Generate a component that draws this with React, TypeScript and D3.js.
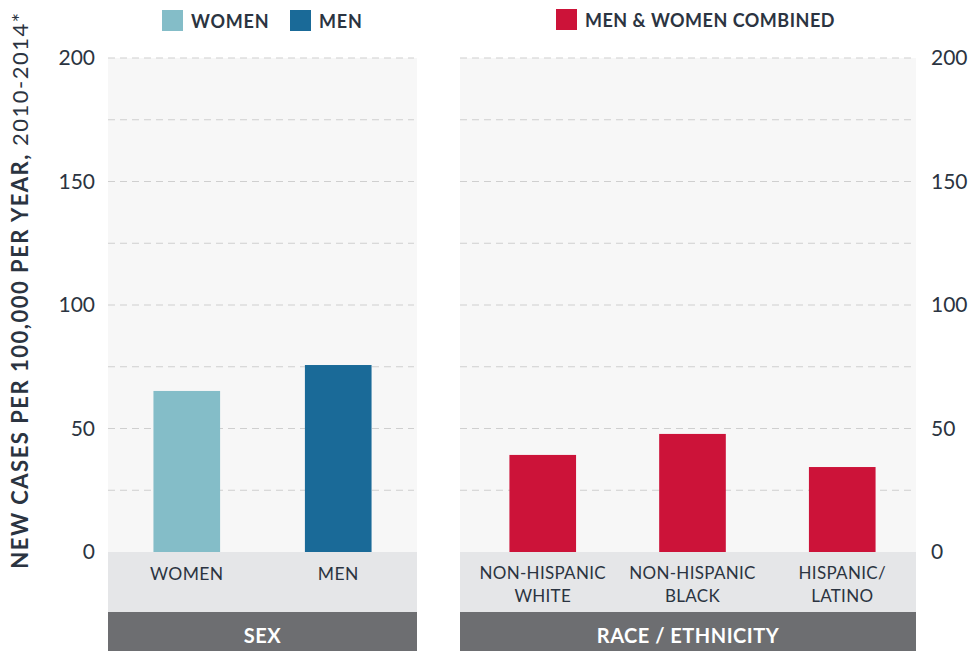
import React from 'react';
import * as d3 from 'd3';

const sexCategories = ['WOMEN', 'MEN'];
const sexValues = [65.2, 75.7];
const sexColors = ['#84bdc8', '#1a6a98'];

const raceCategories = ['NON-HISPANIC WHITE', 'NON-HISPANIC BLACK', 'HISPANIC/ LATINO'];
const raceLabelLines = [['NON-HISPANIC', 'WHITE'], ['NON-HISPANIC', 'BLACK'], ['HISPANIC/', 'LATINO']];
const raceValues = [39.3, 47.8, 34.4];
const raceColor = '#cc1339';

const yTicks = [0, 50, 100, 150, 200];
const gridTicks = [25, 50, 75, 100, 125, 150, 175, 200];

const W = 972;
const H = 651;
const FONT = 'Lato, "Noto Sans", sans-serif';
const TEXT = '#2b3441';

export default function App() {
  const top = 58;
  const base = 552;
  const y = d3.scaleLinear().domain([0, 200]).range([base, top]);

  const left = { x0: 108, x1: 417 };
  const right = { x0: 460, x1: 916 };

  const xSex = d3.scaleBand<string>().domain(sexCategories).range([left.x0, left.x1]).paddingInner(0.56).paddingOuter(0.3);
  const xRace = d3.scaleBand<string>().domain(raceCategories).range([right.x0, right.x1]).paddingInner(0.555).paddingOuter(0.3).align(0.55);

  const panel = (p: { x0: number; x1: number }, key: string, title: string) => (
    <g key={key}>
      <rect x={p.x0} y={top} width={p.x1 - p.x0} height={base - top} fill="#f7f7f7" />
      {gridTicks.map(t => (
        <line key={t} x1={p.x0} x2={p.x1 - 3} y1={y(t)} y2={y(t)} stroke="#cfcfcf" strokeWidth={1} strokeDasharray="7,5" />
      ))}
      <rect x={p.x0} y={base} width={p.x1 - p.x0} height={60} fill="#e5e6e8" />
      <rect x={p.x0} y={612} width={p.x1 - p.x0} height={H - 612} fill="#6d6e71" />
      <text x={(p.x0 + p.x1) / 2} y={643} textAnchor="middle" fill="#fff" fontWeight={700} fontSize={20} letterSpacing={0.5} fontFamily={FONT}>
        {title}
      </text>
    </g>
  );

  return (
    <div style={{ position: 'absolute', left: 0, top: 0 }}>
      <svg width={W} height={H} style={{ display: 'block', background: '#fff' }}>
        {panel(left, 'l', 'SEX')}
        {panel(right, 'r', 'RACE / ETHNICITY')}

        {sexCategories.map((c, i) => (
          <rect key={c} x={xSex(c)} y={y(sexValues[i])} width={xSex.bandwidth()} height={base - y(sexValues[i])} fill={sexColors[i]} />
        ))}
        {raceCategories.map((c, i) => (
          <rect key={c} x={xRace(c)} y={y(raceValues[i])} width={xRace.bandwidth()} height={base - y(raceValues[i])} fill={raceColor} />
        ))}

        {sexCategories.map(c => (
          <text key={c} x={xSex(c)! + xSex.bandwidth() / 2} y={580} textAnchor="middle" fill={TEXT} fontSize={17.5} letterSpacing={0.4} fontFamily={FONT}>
            {c}
          </text>
        ))}
        {raceCategories.map((c, i) => (
          <text key={c} x={xRace(c)! + xRace.bandwidth() / 2} y={579} textAnchor="middle" fill={TEXT} fontSize={17} letterSpacing={0.3} fontFamily={FONT}>
            <tspan x={xRace(c)! + xRace.bandwidth() / 2}>{raceLabelLines[i][0]}</tspan>
            <tspan x={xRace(c)! + xRace.bandwidth() / 2} dy={23}>{raceLabelLines[i][1]}</tspan>
          </text>
        ))}

        {yTicks.map(t => (
          <g key={t}>
            <text x={95} y={y(t) + 7} textAnchor="end" fill={TEXT} fontSize={21} fontFamily={FONT}>{t}</text>
            <text x={931} y={y(t) + 7} textAnchor="start" fill={TEXT} fontSize={21} fontFamily={FONT}>{t}</text>
          </g>
        ))}

        <text transform={`translate(28, 290) rotate(-90)`} textAnchor="middle" fill={TEXT} fontSize={22} letterSpacing={1.5} fontFamily={FONT}>
          <tspan fontWeight={700}>NEW CASES PER 100,000 PER YEAR,</tspan>
          <tspan> 2010-2014*</tspan>
        </text>

        <rect x={162} y={10} width={21} height={21} fill={sexColors[0]} />
        <text x={191} y={28} fill={TEXT} fontSize={18} fontWeight={700} letterSpacing={0.8} fontFamily={FONT}>WOMEN</text>
        <rect x={290} y={10} width={21} height={21} fill={sexColors[1]} />
        <text x={319} y={28} fill={TEXT} fontSize={18} fontWeight={700} letterSpacing={0.8} fontFamily={FONT}>MEN</text>

        <rect x={556} y={9} width={21} height={21} fill={raceColor} />
        <text x={585} y={27} fill={TEXT} fontSize={18} fontWeight={700} letterSpacing={0.5} fontFamily={FONT}>MEN &amp; WOMEN COMBINED</text>
      </svg>
    </div>
  );
}
